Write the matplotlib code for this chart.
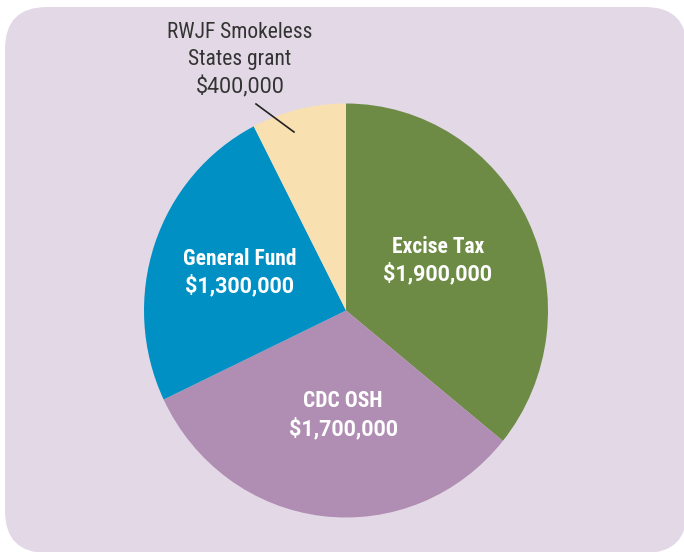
import matplotlib
matplotlib.use("Agg")
import matplotlib.pyplot as plt
from matplotlib.patches import FancyBboxPatch
from matplotlib import font_manager

# Funding sources for the tobacco control program
categories = ["Excise Tax", "CDC OSH", "General Fund", "RWJF Smokeless States grant"]
amounts = [1900000, 1700000, 1300000, 400000]
colors = ["#6e8b46", "#b08db2", "#0090c4", "#f9e0b0"]

def money(v):
    return "${:,.0f}".format(v)

names = {f.name for f in font_manager.fontManager.ttflist}

def pick(cands):
    for c in cands:
        if c in names:
            return c
    return "DejaVu Sans"

name_font = pick(["Roboto Condensed", "Liberation Sans Narrow", "Roboto"])
num_font = pick(["Roboto", "Liberation Sans"])
plt.rcParams["font.family"] = [name_font, "DejaVu Sans"]

W, H = 684, 552
fig = plt.figure(figsize=(W / 100, H / 100), dpi=100)
fig.patch.set_facecolor("white")

# Background panel in pixel coordinates
bg = fig.add_axes([0, 0, 1, 1])
bg.set_xlim(0, W)
bg.set_ylim(H, 0)
bg.axis("off")
panel = FancyBboxPatch((5, 7), 682, 546, boxstyle="round,pad=0,rounding_size=42",
                       facecolor="#e3d9e6", edgecolor="none")
bg.add_patch(panel)

# Pie axes
cx, cy, rx, ry = 346, 310.5, 202, 207
ax = fig.add_axes([(cx - rx) / W, (H - cy - ry) / H, 2 * rx / W, 2 * ry / H])
ax.pie(amounts, colors=colors, startangle=90, counterclock=False, radius=1,
       wedgeprops=dict(linewidth=0))
ax.set_aspect("auto")
ax.set_xlim(-1, 1)
ax.set_ylim(-1, 1)
ax.axis("off")

# Labels (pixel coordinates, drawn above the pie)
lab = fig.add_axes([0, 0, 1, 1], zorder=5)
lab.set_xlim(0, W)
lab.set_ylim(H, 0)
lab.axis("off")
lab.patch.set_alpha(0)

inside = [
    (0, 438, 247, 274),
    (1, 343, 401, 429),
    (2, 240, 259, 286),
]
for i, x, y1, y2 in inside:
    lab.text(x, y1, categories[i], color="white", fontsize=15.5, fontweight="bold",
             ha="center", va="center", family=[name_font, "DejaVu Sans"])
    lab.text(x, y2, money(amounts[i]), color="white", fontsize=15.5, fontweight="bold",
             ha="center", va="center", family=[num_font, "DejaVu Sans"])

grey = "#333333"
lab.text(240, 33, "RWJF Smokeless", color=grey, fontsize=15.5, ha="center", va="center",
         family=[name_font, "DejaVu Sans"])
lab.text(240, 60, "States grant", color=grey, fontsize=15.5, ha="center", va="center",
         family=[name_font, "DejaVu Sans"])
lab.text(240, 87, money(amounts[3]), color=grey, fontsize=15.5, ha="center", va="center",
         family=[num_font, "DejaVu Sans"])
lab.plot([256, 294], [104, 132], color="#222222", linewidth=1.2)

fig.savefig("out.png", dpi=100, facecolor="white")
